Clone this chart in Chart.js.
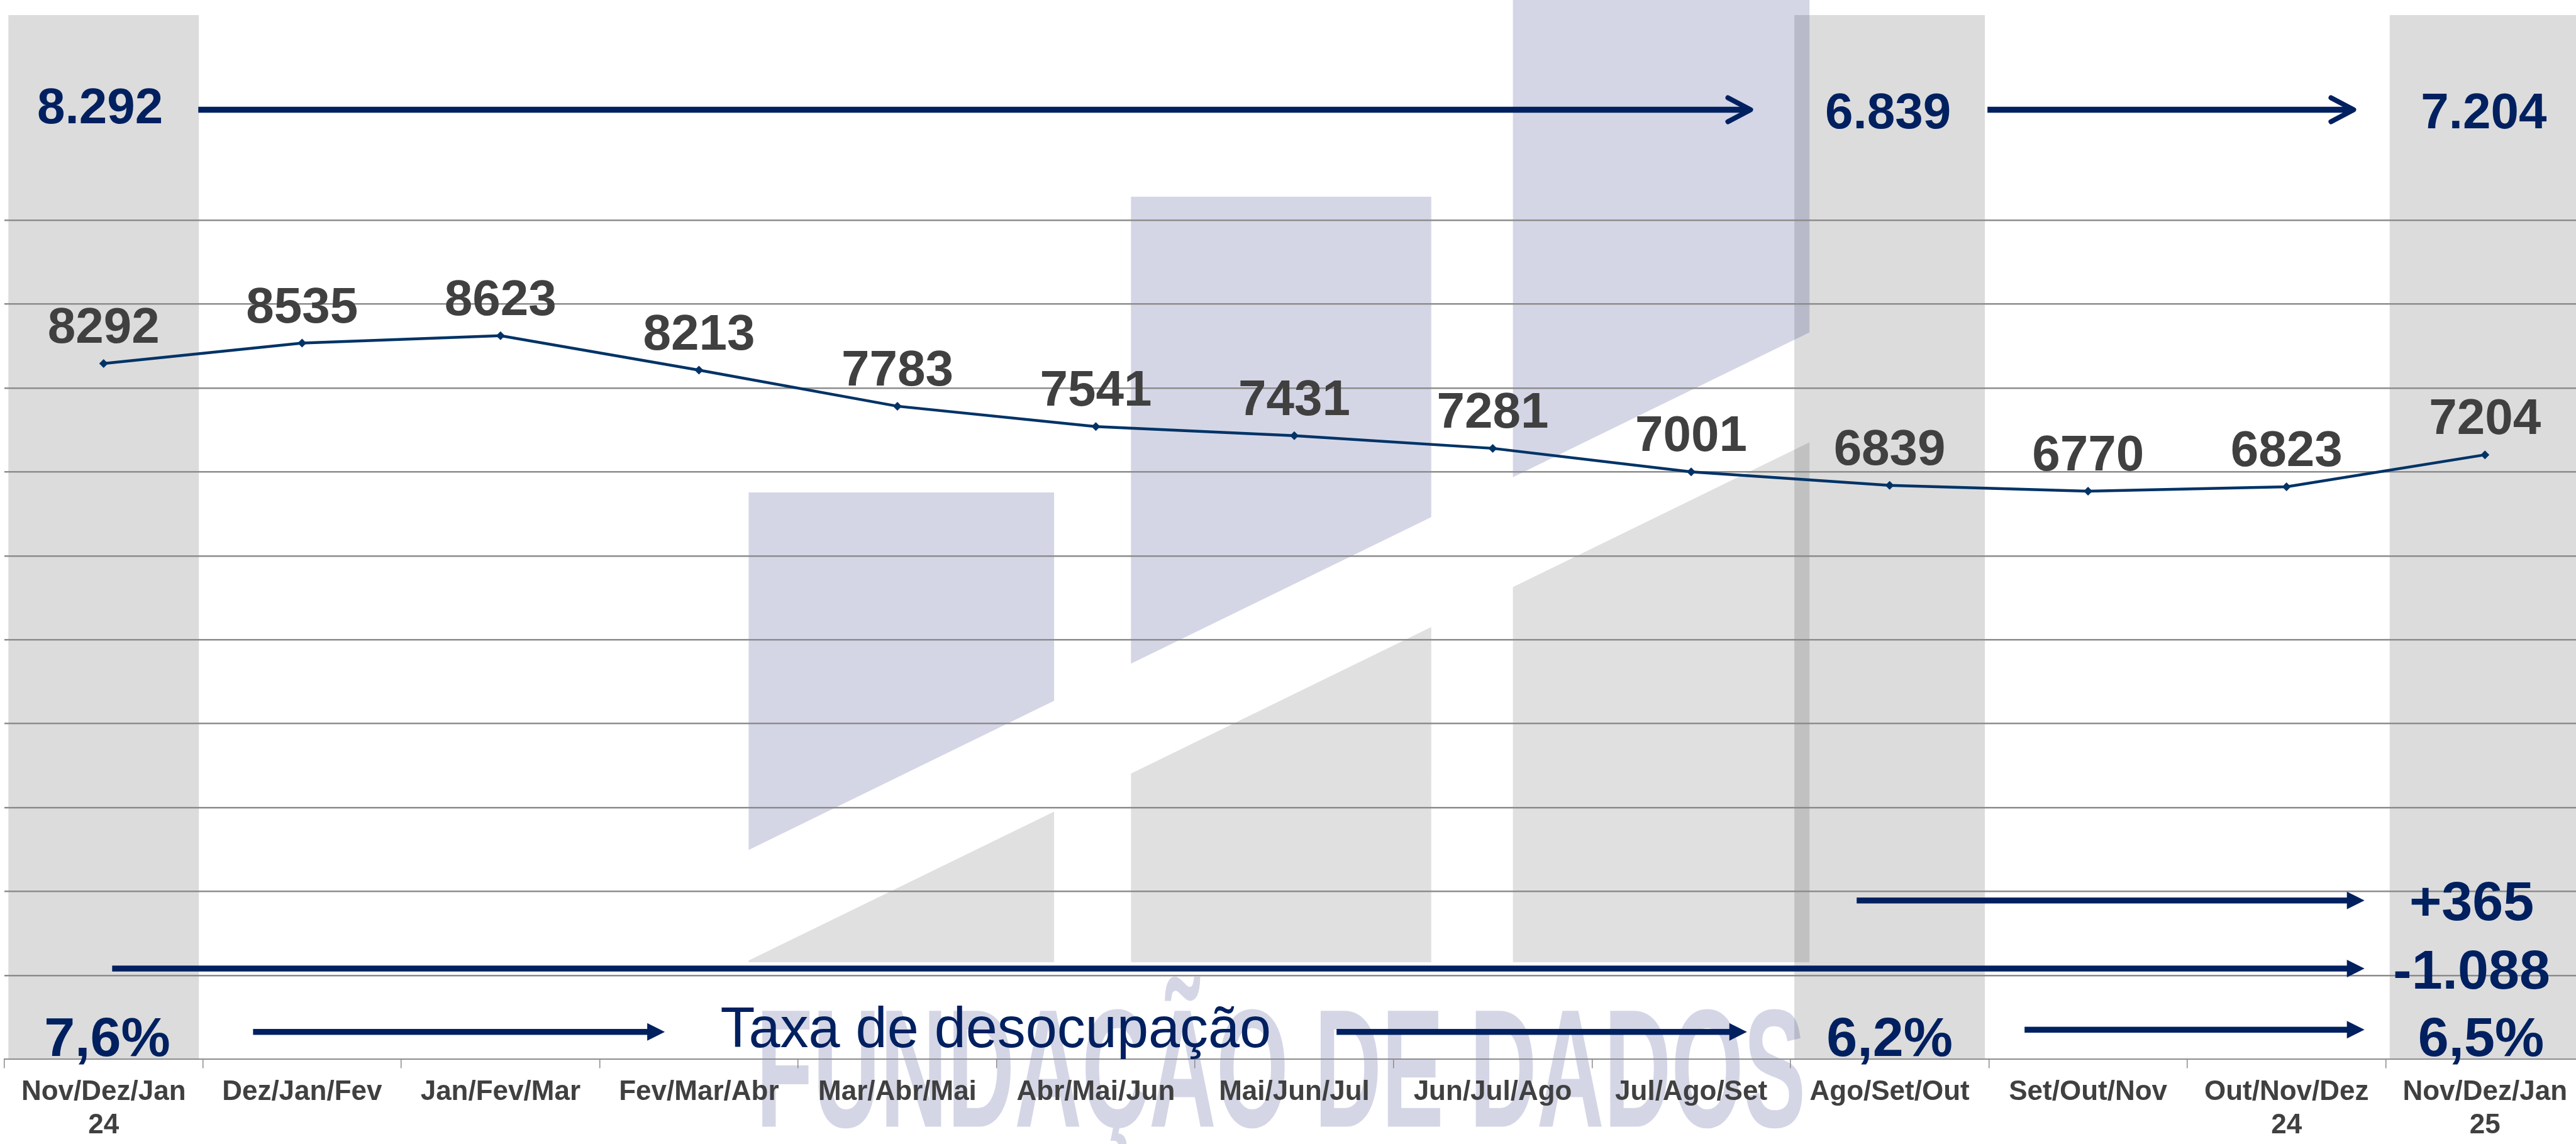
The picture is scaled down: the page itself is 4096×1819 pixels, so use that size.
<!DOCTYPE html>
<html><head><meta charset="utf-8">
<script src="https://cdn.jsdelivr.net/npm/chart.js@4.4.1/dist/chart.umd.min.js"></script>
<style>
html,body{margin:0;padding:0;background:#fff;overflow:hidden;width:4096px;height:1819px;}
#wrap{position:absolute;left:0;top:0;width:4116px;height:1819px;}
</style></head><body>
<div id="wrap"><canvas id="c"></canvas></div>
<script>
// ---------- data ----------
const categories = [["Nov/Dez/Jan","24"],"Dez/Jan/Fev","Jan/Fev/Mar","Fev/Mar/Abr","Mar/Abr/Mai","Abr/Mai/Jun","Mai/Jun/Jul","Jun/Jul/Ago","Jul/Ago/Set","Ago/Set/Out","Set/Out/Nov",["Out/Nov/Dez","24"],["Nov/Dez/Jan","25"]];
const ocupados = [8292,8535,8623,8213,7783,7541,7431,7281,7001,6839,6770,6823,7204];
const highlighted = [0, 9, 12];
const gridValues = [0,1000,2000,3000,4000,5000,6000,7000,8000,9000,10000];
const levelLabels = ["8.292", "6.839", "7.204"];
const changeLabels = ["+365", "-1.088"];
const rateLabels = ["7,6%", "6,2%", "6,5%"];
const rateTitle = "Taxa de desocupação";
const watermarkText = "FUNDAÇÃO DE DADOS";

// ---------- scale settings ----------
const Y_TOP = 12443;

// ---------- styles / layout ----------
const NAVY = '#002060', LINE = '#003366', DARK = '#404040', GRID = '#8C8C8C', BAND = '#DCDCDC';
const FONT = '"Liberation Sans", Arial, Helvetica, sans-serif';
const LAYOUT = {
  level: [{x:-0.018, y:11155}, {x:8.992, y:11095}, {x:11.994, y:11095}],
  levelArrows: [{x0:0.477, x1:8.312, y:11316}, {x0:9.493, x1:11.351, y:11316}],
  change: [{x:11.933, y:1659}, {x:11.933, y:842}],
  changeArrows: [{x0:8.834, x1:11.393, y:1893}, {x0:0.043, x1:11.393, y:1082}],
  rate: [{x:0.018, y:40}, {x:9.0, y:40}, {x:11.98, y:40}],
  rateArrows: [{x0:0.753, x1:2.828, y:327}, {x0:6.213, x1:8.281, y:327}, {x0:9.680, x1:11.393, y:353}],
  title: {x:3.108, y:147}
};
const WM = {
  lav: [
    [[1190.4,782.9],[1676.1,782.9],[1676.1,1114.3],[1190.4,1351.4]],
    [[1798.3,312.7],[2275.8,312.7],[2275.8,822.3],[1798.3,1055.3]],
    [[2405.6,0],[2877.2,0],[2877.2,528.6],[2405.6,758.7]]
  ],
  gray: [
    [[1190.4,1527.3],[1676.1,1290.4],[1676.1,1530],[1190.4,1530]],
    [[1798.3,1230],[2275.8,997],[2275.8,1530],[1798.3,1530]],
    [[2405.6,933.4],[2877.2,703.3],[2877.2,1530],[2405.6,1530]]
  ],
  text: {x:1202.2, baseline:1791.6, width:1669, size:268},
  lavColor: 'rgba(40,48,130,0.2)', grayColor: 'rgba(0,0,0,0.12)'
};

const bandData = categories.map((_, i) => highlighted.includes(i) ? Y_TOP : null);

function poly(ctx, pts) {
  ctx.beginPath(); ctx.moveTo(pts[0][0], pts[0][1]);
  for (let k = 1; k < pts.length; k++) ctx.lineTo(pts[k][0], pts[k][1]);
  ctx.closePath(); ctx.fill();
}
function openArrow(ctx, x0, x1, y) {
  ctx.save(); ctx.strokeStyle = NAVY;
  ctx.lineWidth = 9.4; ctx.lineCap = 'butt';
  ctx.beginPath(); ctx.moveTo(x0, y); ctx.lineTo(x1 - 5, y); ctx.stroke();
  ctx.lineWidth = 8; ctx.lineCap = 'round'; ctx.lineJoin = 'round';
  ctx.beginPath(); ctx.moveTo(x1 - 40, y - 19); ctx.lineTo(x1 - 4, y); ctx.lineTo(x1 - 40, y + 19); ctx.stroke();
  ctx.restore();
}
function blockArrow(ctx, x0, x1, y) {
  ctx.save(); ctx.fillStyle = NAVY;
  ctx.fillRect(x0, y - 4.7, (x1 - 27) - x0, 9.4);
  ctx.beginPath(); ctx.moveTo(x1 - 28, y - 14); ctx.lineTo(x1, y); ctx.lineTo(x1 - 28, y + 14); ctx.closePath(); ctx.fill();
  ctx.restore();
}

const decor = {
  id: 'decor',
  beforeDraw(chart) {
    const ctx = chart.ctx;
    // highlighted category bands (bar dataset elements, drawn under the grid)
    const meta = chart.getDatasetMeta(0);
    meta.data.forEach((el, i) => { if (bandData[i] !== null) el.draw(ctx); });
    // watermark
    ctx.save();
    ctx.fillStyle = WM.lavColor; WM.lav.forEach(p => poly(ctx, p));
    ctx.fillStyle = WM.grayColor; WM.gray.forEach(p => poly(ctx, p));
    ctx.font = 'bold ' + WM.text.size + 'px ' + FONT;
    const w = ctx.measureText(watermarkText).width;
    ctx.translate(WM.text.x, WM.text.baseline);
    ctx.scale(WM.text.width / w, 1);
    ctx.fillStyle = WM.lavColor; ctx.textBaseline = 'alphabetic'; ctx.textAlign = 'left';
    ctx.fillText(watermarkText, 0, 0);
    ctx.restore();
  },
  beforeDatasetDraw(chart, args) {
    if (args.index === 0) return false;
  },
  afterDatasetsDraw(chart) {
    const ctx = chart.ctx;
    const meta = chart.getDatasetMeta(1);
    ctx.save();
    ctx.fillStyle = DARK; ctx.font = 'bold 80px ' + FONT;
    ctx.textAlign = 'center'; ctx.textBaseline = 'alphabetic';
    meta.data.forEach((pt, i) => ctx.fillText(String(ocupados[i]), pt.x, pt.y - 33));
    ctx.restore();
  },
  afterDraw(chart) {
    const ctx = chart.ctx, xs = chart.scales.x, ys = chart.scales.y;
    const X = v => xs.getPixelForValue(v), Y = v => ys.getPixelForValue(v);
    ctx.save();
    ctx.fillStyle = NAVY; ctx.textAlign = 'center'; ctx.textBaseline = 'alphabetic';
    ctx.font = 'bold 80px ' + FONT;
    levelLabels.forEach((t, i) => ctx.fillText(t, X(LAYOUT.level[i].x), Y(LAYOUT.level[i].y)));
    LAYOUT.levelArrows.forEach(a => openArrow(ctx, X(a.x0), X(a.x1), Y(a.y)));
    ctx.font = 'bold 88px ' + FONT;
    changeLabels.forEach((t, i) => ctx.fillText(t, X(LAYOUT.change[i].x), Y(LAYOUT.change[i].y)));
    rateLabels.forEach((t, i) => ctx.fillText(t, X(LAYOUT.rate[i].x), Y(LAYOUT.rate[i].y)));
    LAYOUT.changeArrows.forEach(a => blockArrow(ctx, X(a.x0), X(a.x1), Y(a.y)));
    LAYOUT.rateArrows.forEach(a => blockArrow(ctx, X(a.x0), X(a.x1), Y(a.y)));
    ctx.font = '90px ' + FONT; ctx.textAlign = 'left';
    ctx.fillText(rateTitle, X(LAYOUT.title.x), Y(LAYOUT.title.y));
    ctx.restore();
  }
};

new Chart(document.getElementById('c'), {
  type: 'bar',
  data: {
    labels: categories,
    datasets: [
      { type: 'bar', data: bandData, backgroundColor: BAND, borderWidth: 0,
        barPercentage: 0.96, categoryPercentage: 1.0 },
      { type: 'line', data: ocupados, borderColor: LINE, borderWidth: 4.5, tension: 0,
        pointStyle: 'rectRot', pointRadius: 7, pointBackgroundColor: LINE, pointBorderWidth: 0, fill: false }
    ]
  },
  options: {
    responsive: true, maintainAspectRatio: false, animation: false,
    layout: { padding: { top: 24.1, left: 1.8, right: 1, bottom: 0 } },
    plugins: { legend: { display: false }, tooltip: { enabled: false } },
    scales: {
      x: {
        offset: true,
        grid: { drawOnChartArea: false, drawTicks: true, tickLength: 14, color: GRID, lineWidth: 1.5, offset: true },
        border: { display: true, color: GRID, width: 2 },
        ticks: { autoSkip: false, maxRotation: 0, minRotation: 0, padding: 12, color: DARK,
                 font: { family: FONT, size: 44, weight: 'bold', lineHeight: 1.2 } },
        afterFit(scale) { scale.height = 134.6; }
      },
      y: {
        min: 0, max: Y_TOP,
        ticks: { display: false },
        afterBuildTicks(scale) { scale.ticks = gridValues.map(v => ({ value: v })); },
        border: { display: false },
        grid: { drawTicks: false, lineWidth: 2.5,
                color: c => (c.tick && c.tick.value > 0) ? GRID : 'rgba(0,0,0,0)' },
        afterFit(scale) { scale.width = 0; }
      }
    }
  },
  plugins: [decor]
});
</script>
</body></html>
